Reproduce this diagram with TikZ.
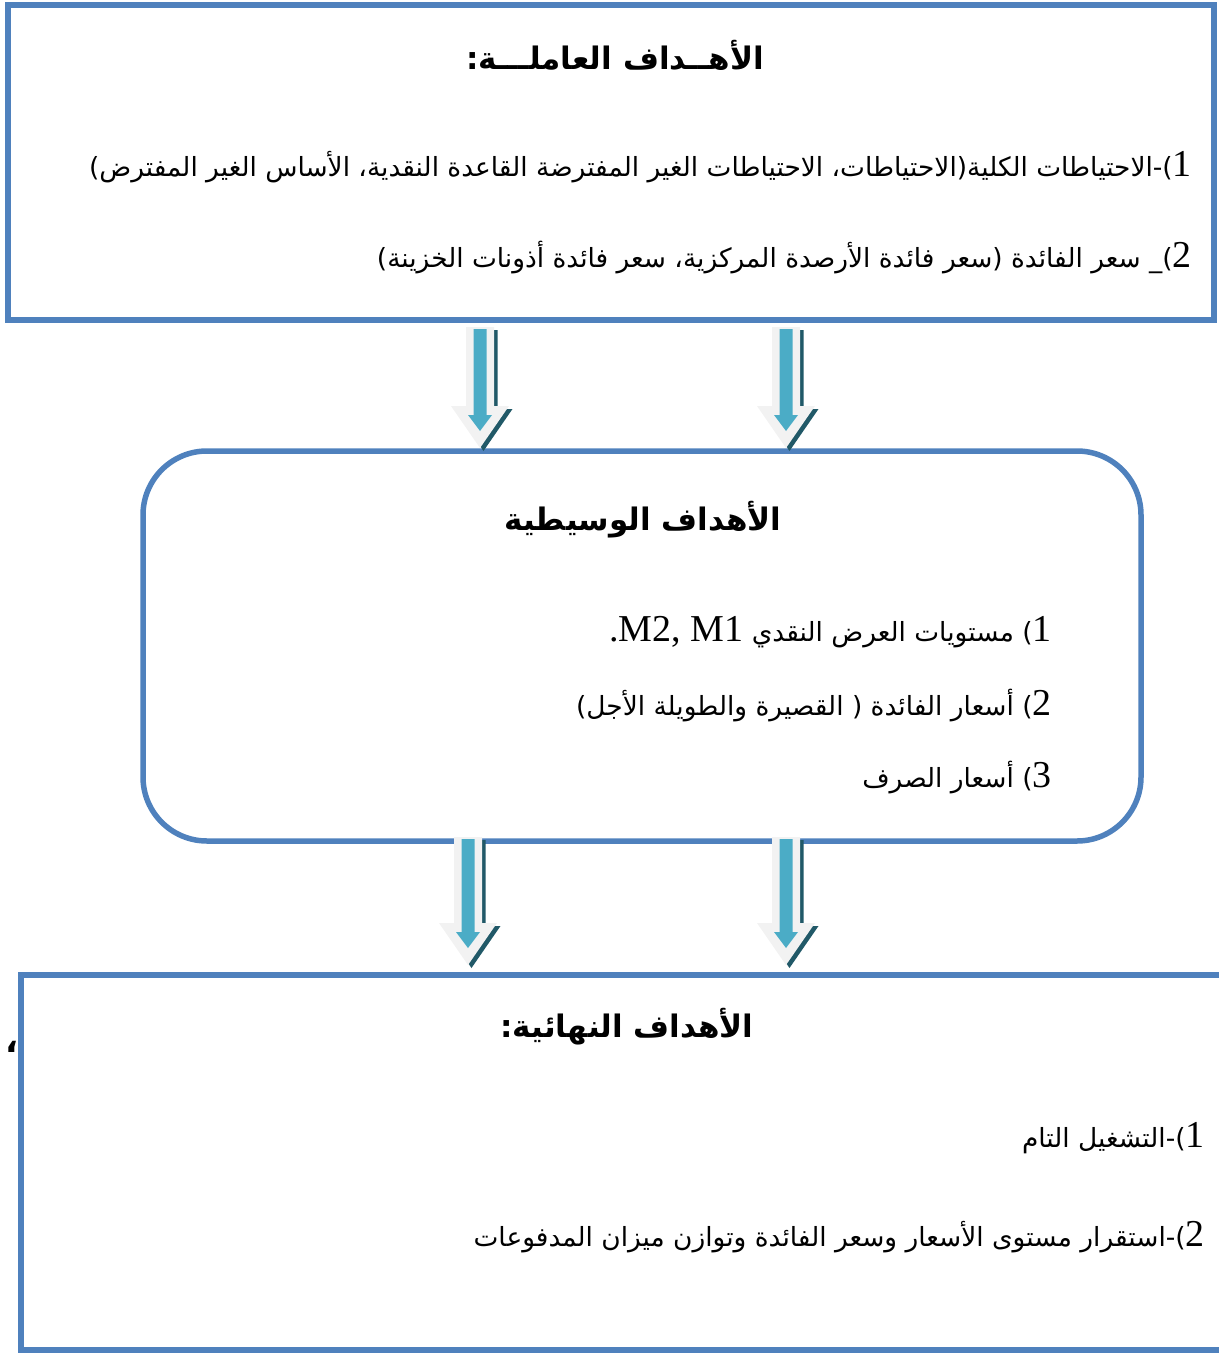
\documentclass[tikz,border=0pt]{standalone}
\usepackage{fontspec}
\setmainfont{Liberation Serif}
\newfontfamily\arabicfont[Script=Arabic]{DejaVu Sans}
\TeXXeTstate=1
\usetikzlibrary{calc}

\definecolor{boxblue}{HTML}{4F81BD}
\definecolor{arrowgray}{HTML}{F2F2F2}
\definecolor{arrowteal}{HTML}{4BACC6}
\definecolor{arrowdark}{HTML}{215968}

\newcommand{\itemnum}[1]{{\rmfamily\fontsize{19}{22}\selectfont #1}}
% outline of a block arrow: #1 top, #2 tip, #3 half shaft, #4 half head, #5 head length
\newcommand{\arrowpath}[5]{let \p1=(#1), \p2=(#2) in
	(\x1-#3,\y1) -- (\x1+#3,\y1) -- (\x1+#3,\y2+#5) -- (\x1+#4,\y2+#5)
	-- (\x1,\y2) -- (\x1-#4,\y2+#5) -- (\x1-#3,\y2+#5) -- cycle}
\newcommand{\blockarrow}[2]{%
	\fill[arrowdark] \arrowpath{[shift={(1.75pt,-1.5pt)}]#1}{[shift={(1.75pt,-1.5pt)}]#2}{7pt}{14.5pt}{21pt};
	\fill[arrowgray] \arrowpath{#1}{#2}{7pt}{14.5pt}{21pt};
	\fill[arrowteal] \arrowpath{[yshift=-1pt]#1}{[yshift=8.5pt]#2}{3.25pt}{6pt}{8pt};
}

\begin{document}
\begin{tikzpicture}[x=0.5pt,y=-0.5pt,
	boxline/.style={draw=boxblue, line width=2.75pt},
	ar/.style={font=\arabicfont\fontsize{13.2}{16}\selectfont, inner sep=0pt},
	artitle/.style={font=\arabicfont\bfseries\fontsize{15.5}{18}\selectfont, inner sep=0pt},
	item/.style={ar, anchor=east}]
	\clip (0,0) rectangle (1219,1354);
	%\fill[white] (0,0) rectangle (1219,1354);

	% the three levels
	\node[boxline, minimum width=603pt, minimum height=157.5pt] (working) at (611,162.5) {};
	\node[boxline, rounded corners=32pt, minimum width=499pt, minimum height=195pt] (inter) at (642,646) {};
	\draw[boxline] (1240,975) -- (21,975) -- (21,1350) -- (1240,1350);

	\node[artitle] (wtitle) at (615,55) {\beginR الأهــداف العاملـــة:\endR};
	\node[item] (w1) at (1192,167) {\beginR\itemnum{1})-الاحتياطات الكلية(الاحتياطات، الاحتياطات الغير المفترضة القاعدة النقدية، الأساس الغير المفترض)\endR};
	\node[item] (w2) at (1192,258) {\beginR\itemnum{2})\_ سعر الفائدة (سعر فائدة الأرصدة المركزية، سعر فائدة أذونات الخزينة)\endR};

	\node[artitle] (ititle) at (643,520) {\beginR الأهداف الوسيطية\endR};
	\node[item] (i1) at (1052,632) {\beginR\itemnum{1}) مستويات العرض النقدي \itemnum{\beginL.M2, M1\endL}\endR};
	\node[item] (i2) at (1052,706) {\beginR\itemnum{2}) أسعار الفائدة ( القصيرة والطويلة الأجل)\endR};
	\node[item] (i3) at (1052,778) {\beginR\itemnum{3}) أسعار الصرف\endR};

	\node[artitle] (ftitle) at (627,1027) {\beginR الأهداف النهائية:\endR};
	\node[item] (f1) at (1205,1138) {\beginR\itemnum{1})-التشغيل التام\endR};
	\node[item] (f2) at (1205,1237) {\beginR\itemnum{2})-استقرار مستوى الأسعار وسعر الفائدة وتوازن ميزان المدفوعات\endR};
	\node[artitle, font=\arabicfont\bfseries\fontsize{17}{20}\selectfont] (comma) at (12,1047) {\beginR،\endR};

	% arrows between the levels
	\coordinate (wL) at (480,327); \coordinate (wLtip) at (480,448);
	\coordinate (wR) at (786,327); \coordinate (wRtip) at (786,448);
	\coordinate (iL) at (468,837); \coordinate (iLtip) at (468,965);
	\coordinate (iR) at (786,837); \coordinate (iRtip) at (786,965);
	\blockarrow{wL}{wLtip}
	\blockarrow{wR}{wRtip}
	\blockarrow{iL}{iLtip}
	\blockarrow{iR}{iRtip}
\end{tikzpicture}
\end{document}
